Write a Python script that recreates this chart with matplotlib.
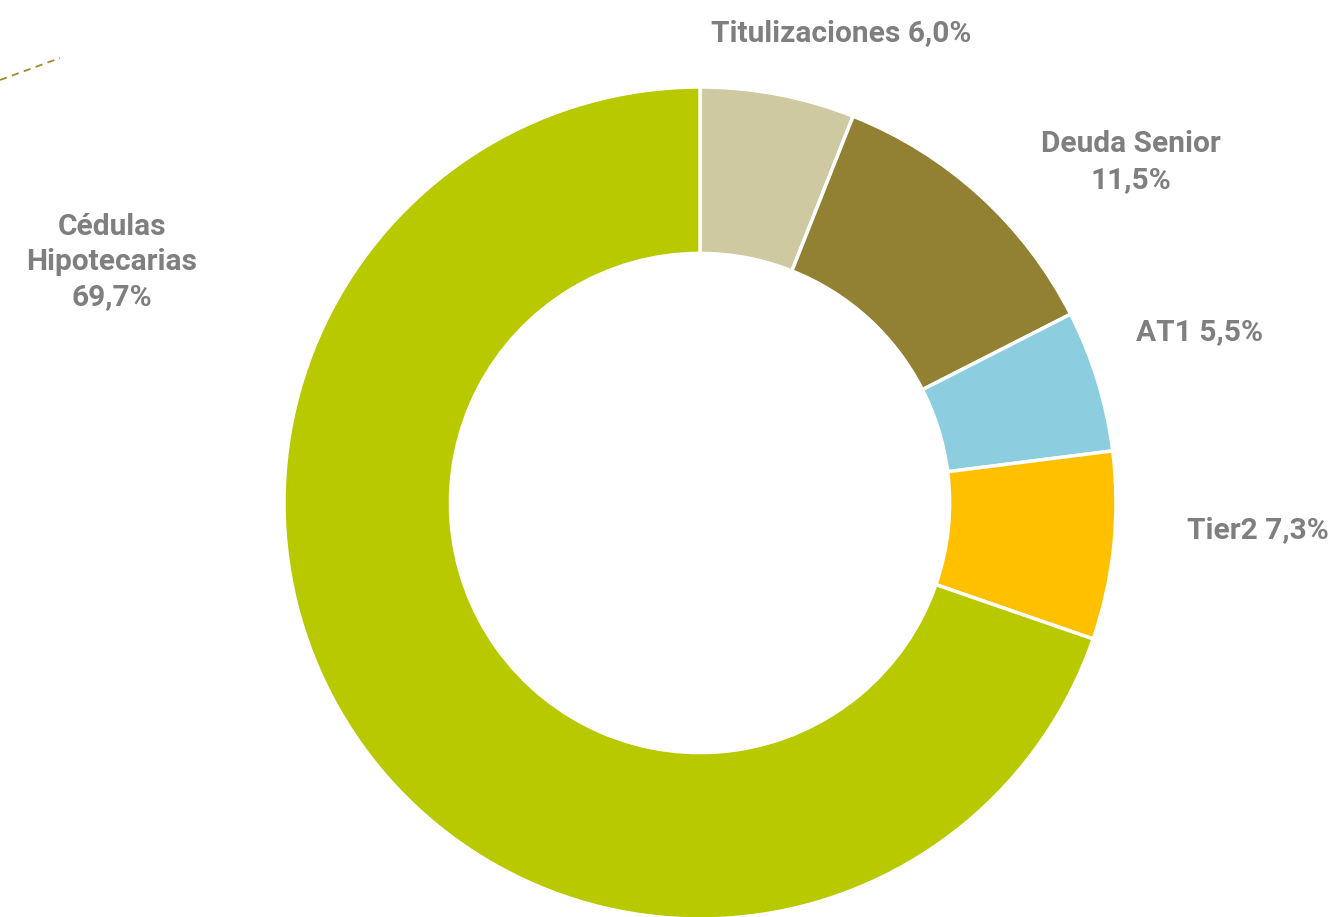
import matplotlib
matplotlib.use("Agg")
import matplotlib.pyplot as plt
from matplotlib.lines import Line2D

categories = ["Titulizaciones", "Deuda Senior", "AT1", "Tier2", "Cédulas Hipotecarias"]
values = [6.0, 11.5, 5.5, 7.3, 69.7]
colors = ["#CEC9A0", "#928033", "#8CCDE0", "#FFC000", "#B9C900"]
# label text layout (line breaks) per category
label_texts = ["Titulizaciones {v}", "Deuda Senior\n{v}", "AT1 {v}", "Tier2 {v}", "Cédulas\nHipotecarias\n{v}"]

W, H = 1336, 917
fig = plt.figure(figsize=(W / 100, H / 100), dpi=100)
fig.patch.set_facecolor("white")

cx, cy, R = 700, 503, 416
ax = fig.add_axes([(cx - R) / W, 1 - (cy + R) / H, 2 * R / W, 2 * R / H])
ax.pie(values, colors=colors, startangle=90, counterclock=False, radius=1.0,
       wedgeprops=dict(width=0.4, edgecolor="white", linewidth=2.5))
ax.set_xlim(-1, 1)
ax.set_ylim(-1, 1)
ax.set_aspect("equal")
ax.axis("off")

# label positions (pixels, centre of text block)
label_pos = [(841, 33), (1131, 162), (1199, 332), (1258, 530), (112, 262)]
for txt, v, (px, py) in zip(label_texts, values, label_pos):
    s = txt.format(v=f"{v:.1f}".replace(".", ",") + "%")
    fig.text(px / W, 1 - py / H, s, ha="center", va="center", color="#7F7F7F",
             fontsize=21.5, fontweight="bold", family=["Roboto", "DejaVu Sans"],
             linespacing=1.33)

# dashed leader fragment at top-left
fig.add_artist(Line2D([0 / W, 60 / W], [1 - 80 / H, 1 - 58 / H], transform=fig.transFigure,
                      color="#9B8A2E", linewidth=1.3, linestyle=(0, (4, 3))))

fig.savefig("out.png", dpi=100, facecolor="white")
